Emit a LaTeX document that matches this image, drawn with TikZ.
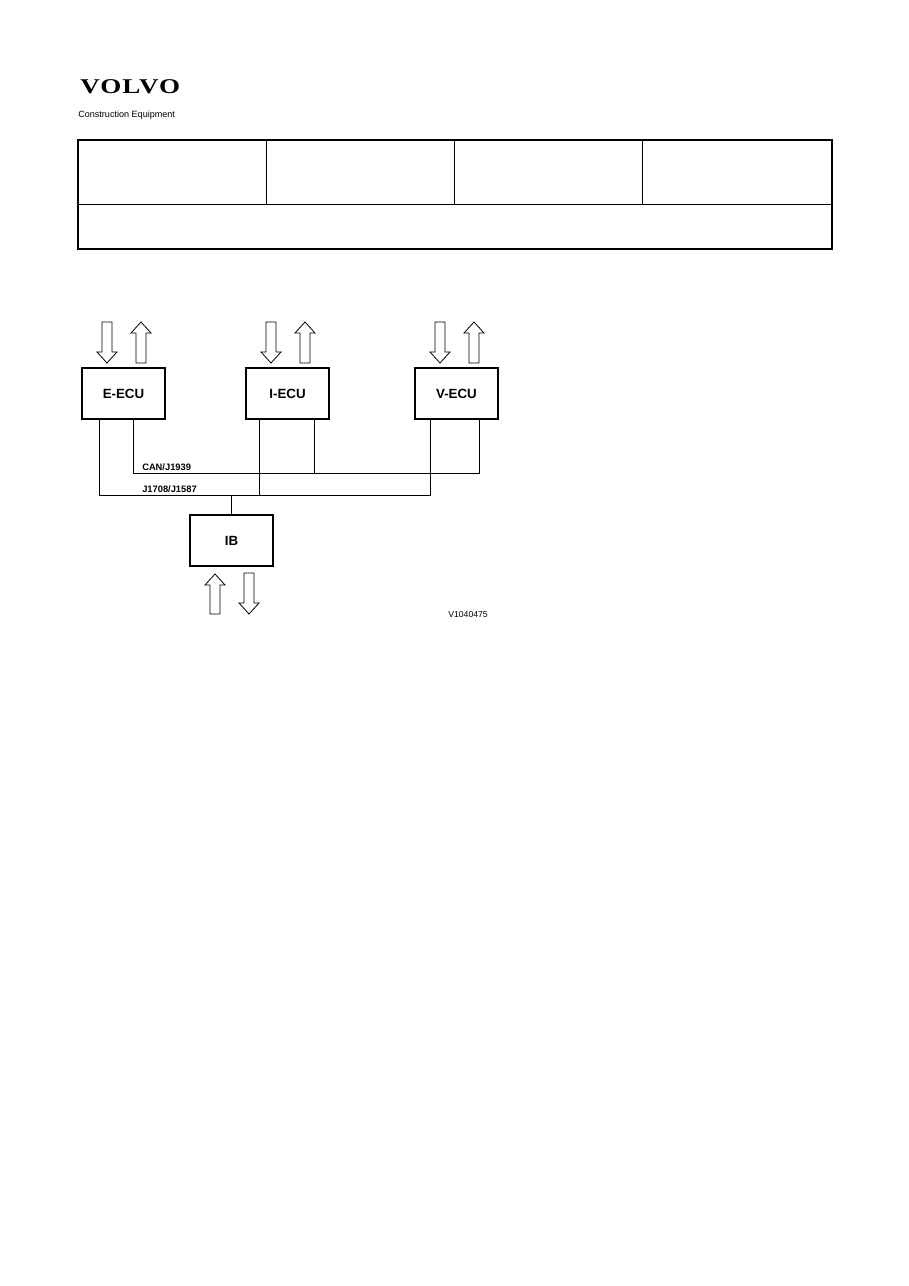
\documentclass[tikz,border=0pt]{standalone}
\usepackage{fontspec}
\setmainfont{Liberation Sans}
\newfontfamily\logofont{Liberation Serif}
\usetikzlibrary{calc}
\newcommand\blockarr[3]{% x, tail y, tip y
  \draw[arrowbox] let \n1={(#3-#2)/abs(#3-#2)} in
    (#1-5,#2) -- (#1-5,#3-11*\n1) -- (#1-10,#3-11*\n1) -- (#1,#3) -- (#1+10,#3-11*\n1) -- (#1+5,#3-11*\n1) -- (#1+5,#2) -- cycle;}
\tikzset{
  ecu/.style={draw,line width=1.3pt,minimum width=62.25pt,minimum height=38.25pt,inner sep=0,font=\bfseries\fontsize{10}{12}\selectfont},
  bus/.style={line width=0.6pt},
  arrowbox/.style={draw,line width=0.6pt,fill=white},
  lbl/.style={font=\bfseries\fontsize{7}{8}\selectfont,anchor=base west,inner sep=0}
}
\begin{document}
\begin{tikzpicture}[x=0.75pt,y=-0.75pt]
\useasboundingbox (0,0) rectangle (909,1286);
% logo
\node[inner sep=0,anchor=base west] (logo) at (80,93) {\logofont\bfseries\fontsize{15}{15}\selectfont\addfontfeature{LetterSpace=4}\scalebox{1.35}[1.05]{VOLVO}};
\node[inner sep=0,anchor=base west] (ce) at (78,117) {\fontsize{6.8}{8}\selectfont Construction Equipment};
% header table
\draw[line width=1.4pt] (78,140) rectangle (832,249);
\draw[line width=0.7pt] (78,204) -- (832,204);
\foreach \x in {266,454,642} \draw[line width=0.7pt] (\x,140) -- (\x,204);
% ECUs
\node[ecu] (e) at (123.5,393.5) {E-ECU};
\node[ecu] (i) at (287.5,393.5) {I-ECU};
\node[ecu] (v) at (456.5,393.5) {V-ECU};
\node[ecu] (ib) at (231.5,540.5) {IB};
% buses
\coordinate (canL) at (133,473); \coordinate (canR) at (479,473);
\coordinate (jL) at (99,495); \coordinate (jR) at (430,495);
\draw[bus] (e.south -| canL) -- (canL) -- (canR) -- (v.south -| canR);
\draw[bus] (e.south -| jL) -- (jL) -- (jR) -- (v.south -| jR);
\draw[bus] (i.south -| 259,0) -- (259,495);
\draw[bus] (i.south -| 314,0) -- (314,473);
\draw[bus] (ib.north) -- (ib.north |- jL);
\node[lbl] (can) at (142,470) {CAN/J1939};
\node[lbl] (j17) at (142,492) {J1708/J1587};
% arrows
\blockarr{107}{322}{363}
\blockarr{141}{363}{322}
\blockarr{271}{322}{363}
\blockarr{305}{363}{322}
\blockarr{440}{322}{363}
\blockarr{474}{363}{322}
\blockarr{215}{614}{574}
\blockarr{249}{573}{614}
\node[inner sep=0,anchor=base west] (code) at (448,617) {\fontsize{6.5}{8}\selectfont V1040475};
\end{tikzpicture}
\end{document}
